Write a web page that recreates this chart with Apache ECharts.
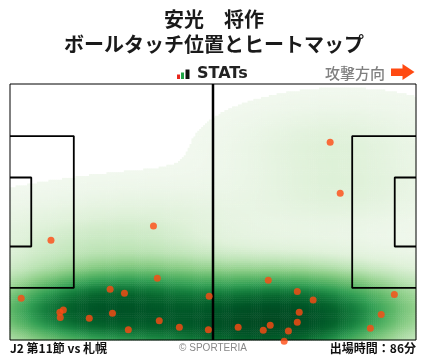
<!DOCTYPE html>
<html><head><meta charset="utf-8">
<script src="https://cdn.jsdelivr.net/npm/echarts@6/dist/echarts.min.js"></script>
<style>html,body{margin:0;padding:0;background:#fff}#c{width:428px;height:359px}</style>
</head><body><div id="c"></div>
<script>
// ---- data (metres, x: 0-105 toward attacking goal, y: 0-68 from bottom touchline) ----
const touchX = [37.1, 10.6, 38.1, 25.9, 29.6, 2.9, 51.5, 13.8, 12.9, 13.0, 26.5, 20.5, 38.6, 30.6, 43.8, 51.3,
                82.8, 85.4, 66.8, 74.3, 78.4, 99.4, 74.8, 96.0, 74.3, 59.0, 67.3, 65.5, 72.0, 93.2, 70.9];
const touchY = [30.3, 26.5, 16.4, 13.5, 12.4, 11.1, 11.6, 8.0, 7.4, 6.0, 7.1, 5.8, 5.1, 2.7, 3.4, 2.7,
                52.5, 39.0, 15.9, 12.9, 10.6, 12.1, 7.4, 6.8, 4.7, 3.4, 3.9, 2.6, 2.4, 3.1, -0.3];
const titleLines = ['安光\u3000将作', 'ボールタッチ位置とヒートマップ'];
const footerLeft = 'J2 第11節 vs 札幌';
const footerRight = '出場時間：86分';
const pitchLength = 105, pitchWidth = 68;
const penaltyDepth = 16.5, penaltyWidth = 40.32, goalAreaDepth = 5.5, goalAreaWidth = 18.32;

// ---- kernel density of the touches (gaussian_kde, Scott's rule) ----
const n = touchX.length;
const mx = touchX.reduce((a, b) => a + b, 0) / n, my = touchY.reduce((a, b) => a + b, 0) / n;
let sxx = 0, syy = 0, sxy = 0;
for (let i = 0; i < n; i++) { const dx = touchX[i] - mx, dy = touchY[i] - my; sxx += dx * dx; syy += dy * dy; sxy += dx * dy; }
const f2 = Math.pow(n, -1 / 3);
const cxx = sxx / (n - 1) * f2, cyy = syy / (n - 1) * f2, cxy = sxy / (n - 1) * f2;
const det = cxx * cyy - cxy * cxy;
const ixx = cyy / det, iyy = cxx / det, ixy = -cxy / det;
const step = 0.5, NX = Math.round(pitchLength / step), NY = Math.round(pitchWidth / step);
const dens = []; let dmax = 0;
for (let i = 0; i < NX; i++) for (let j = 0; j < NY; j++) {
  const x = (i + 0.5) * step, y = (j + 0.5) * step; let s = 0;
  for (let k = 0; k < n; k++) { const dx = x - touchX[k], dy = y - touchY[k]; s += Math.exp(-0.5 * (ixx * dx * dx + 2 * ixy * dx * dy + iyy * dy * dy)); }
  dens.push([i, j, s]); if (s > dmax) dmax = s;
}
const thr = 0.009;
const heatData = dens.map(d => [d[0], d[1], d[2] / dmax]).filter(d => d[2] >= thr);
const catX = Array.from({length: NX}, (_, i) => i), catY = Array.from({length: NY}, (_, j) => j);

// ---- pitch markings ----
const L = pitchLength, W = pitchWidth;
const pY0 = (W - penaltyWidth) / 2, pY1 = W - pY0, gY0 = (W - goalAreaWidth) / 2, gY1 = W - gY0;
const boxes = [
  [[0, pY0], [penaltyDepth, pY0], [penaltyDepth, pY1], [0, pY1]],
  [[0, gY0], [goalAreaDepth, gY0], [goalAreaDepth, gY1], [0, gY1]],
  [[L, pY0], [L - penaltyDepth, pY0], [L - penaltyDepth, pY1], [L, pY1]],
  [[L, gY0], [L - goalAreaDepth, gY0], [L - goalAreaDepth, gY1], [L, gY1]]
];
const lineSeries = boxes.map(b => ({
  type: 'line', xAxisIndex: 0, yAxisIndex: 0, data: b, symbol: 'none', clip: false, silent: true, z: 5,
  lineStyle: {color: '#000', width: 1.8}, animation: false
}));
lineSeries.push({type: 'line', xAxisIndex: 0, yAxisIndex: 0, data: [[L / 2, 0], [L / 2, W]], symbol: 'none', clip: false, z: 5,
  lineStyle: {color: '#000', width: 2.5}, animation: false});
lineSeries.push({type: 'line', xAxisIndex: 0, yAxisIndex: 0, data: [[0, 0], [L, 0], [L, W], [0, W], [0, 0]], symbol: 'none', clip: false, z: 5,
  lineStyle: {color: '#000', width: 1}, animation: false});

const grid = {left: 10, top: 84, width: 406, height: 256};
const chart = echarts.init(document.getElementById('c'), null, {renderer: 'canvas'});
const cjk = '"Noto Sans CJK JP", "Noto Sans", sans-serif';
chart.setOption({
  animation: false,
  grid: [Object.assign({}, grid), Object.assign({}, grid)],
  xAxis: [
    {type: 'value', min: 0, max: L, show: false, gridIndex: 0},
    {type: 'category', data: catX, show: false, gridIndex: 1}
  ],
  yAxis: [
    {type: 'value', min: 0, max: W, show: false, gridIndex: 0},
    {type: 'category', data: catY, show: false, gridIndex: 1}
  ],
  visualMap: {show: false, type: 'continuous', seriesIndex: 0, min: thr, max: 1, dimension: 2,
    inRange: {color: ['#f1f8ee', '#dff1d9', '#bbe3b4', '#8fcf8a', '#5fb86a', '#34a055', '#17803f', '#07652e', '#005427', '#004a22']}},
  series: [
    {type: 'heatmap', xAxisIndex: 1, yAxisIndex: 1, data: heatData, progressive: 0, z: 1, silent: true},
    ...lineSeries,
    {type: 'scatter', xAxisIndex: 0, yAxisIndex: 0, data: touchX.map((x, i) => [x, touchY[i]]), symbolSize: 7, clip: false, z: 10,
      itemStyle: {color: '#ff4a12'}}
  ],
  graphic: [
    {type: 'text', left: 'center', top: 9, style: {text: titleLines[0], font: 'bold 20px ' + cjk, fill: '#1a1a1a'}},
    {type: 'text', left: 'center', top: 34, style: {text: titleLines[1], font: 'bold 20px ' + cjk, fill: '#1a1a1a'}},
    {type: 'rect', shape: {x: 177, y: 74.5, width: 3, height: 4.5}, style: {fill: '#e8261c'}},
    {type: 'rect', shape: {x: 181, y: 72.5, width: 3, height: 6.5}, style: {fill: '#1ea446'}},
    {type: 'rect', shape: {x: 185.5, y: 69.5, width: 4, height: 9.5}, style: {fill: '#111'}},
    {type: 'text', x: 197, y: 74, style: {text: 'STATs', font: 'bold 16px "DejaVu Sans", sans-serif', fill: '#222', verticalAlign: 'middle'}},
    {type: 'text', x: 325, y: 73, style: {text: '攻撃方向', font: '500 15px ' + cjk, fill: '#808080', verticalAlign: 'middle'}},
    {type: 'polygon', shape: {points: [[391, 68.5], [402.5, 68.5], [402.5, 64], [414.5, 72], [402.5, 80], [402.5, 76], [391, 76]]}, style: {fill: '#ff4a12'}},
    {type: 'text', x: 10, y: 342, style: {text: footerLeft, font: 'bold 12px ' + cjk, fill: '#111'}},
    {type: 'text', x: 213, y: 343, style: {text: '© SPORTERIA', font: '10px "Liberation Sans", sans-serif', fill: '#888', align: 'center'}},
    {type: 'text', x: 416, y: 342, style: {text: footerRight, font: 'bold 12px ' + cjk, fill: '#111', align: 'right'}}
  ]
});
</script></body></html>
